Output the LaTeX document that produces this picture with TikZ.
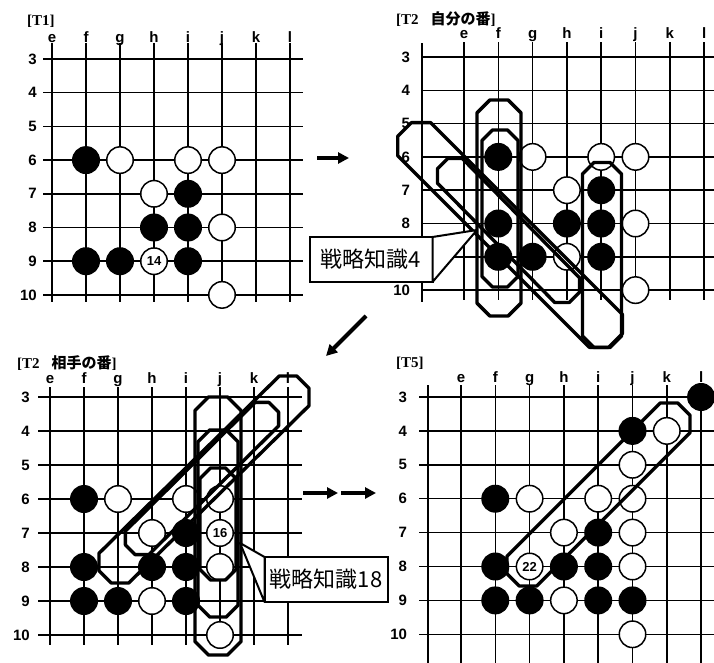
\documentclass[tikz,border=0pt]{standalone}
\usepackage{fontspec}
\setmainfont{Liberation Serif}
\newfontfamily\lblfont{Liberation Sans}
\newfontfamily\cjk{Noto Sans CJK JP}
\usetikzlibrary{arrows.meta,calc}

\tikzset{
  gridline/.style={line width=1.5pt},
  bstone/.style={circle,fill=black,minimum size=28pt,inner sep=0pt},
  wstone/.style={circle,draw,line width=1.5pt,fill=white,minimum size=26.5pt,inner sep=0pt,
    font=\lblfont\bfseries\fontsize{13}{13}\selectfont},
  collabel/.style={anchor=base,inner sep=0pt,font=\lblfont\bfseries\fontsize{15}{15}\selectfont},
  rowlabel/.style={anchor=east,inner sep=0pt,font=\lblfont\bfseries\fontsize{15}{15}\selectfont},
  title/.style={anchor=west,inner sep=0pt,font=\bfseries\fontsize{15}{15}\selectfont},
  capline/.style={line width=3.4pt,line join=round},
  callbox/.style={draw,fill=white,line width=2pt,outer sep=0pt,minimum width=123pt,
    minimum height=45pt,font=\cjk\fontsize{22}{22}\selectfont},
  wedge/.style={draw,fill=white,line width=2pt,line join=round},
  turn/.style={line width=4pt,-{Triangle[length=11pt,width=11pt]}},
}

% octagon ended band: ends #1 and #2, angle from #1 to #2, half width #4
\newcommand{\capsule}[4]{%
  \pgfmathsetmacro{\capr}{#4*1.0824}
  \draw[capline] ($(#2)+(#3-67.5:\capr pt)$) -- ($(#2)+(#3-22.5:\capr pt)$)
    -- ($(#2)+(#3+22.5:\capr pt)$) -- ($(#2)+(#3+67.5:\capr pt)$)
    -- ($(#1)+(#3+112.5:\capr pt)$) -- ($(#1)+(#3+157.5:\capr pt)$)
    -- ($(#1)+(#3+202.5:\capr pt)$) -- ($(#1)+(#3+247.5:\capr pt)$) -- cycle;}

\begin{document}
\begin{tikzpicture}[x=1pt,y=-1pt]
\useasboundingbox (0,0) rectangle (714,663);

% board T1 (column 0 = e)
\node[title] (t1) at (27,21) {[T1]};
\begin{scope}[shift={(52,-42.1)},x=34pt,y=-33.7pt]
  \foreach \c in {0,...,7} \draw[gridline] (\c,2.52) -- (\c,10.21);
  \foreach \r in {3,...,10} \draw[gridline] (-0.26,\r) -- (7.38,\r);
  \foreach \c/\l in {0/e,1/f,2/g,3/h,4/i,5/j,6/k,7/l} \node[collabel] (t1c\c) at (\c,2.5) {\l};
  \foreach \r in {3,...,10} \node[rowlabel] (t1r\r) at (-0.44,\r) {\r};
  \foreach \c/\r in {1/6,4/7,3/8,4/8,1/9,2/9,4/9} \node[bstone] (t1b\c\r) at (\c,\r) {};
  \foreach \c/\r in {2/6,4/6,5/6,3/7,5/8,5/10} \node[wstone] (t1w\c\r) at (\c,\r) {};
  \node[wstone] (t1m14) at (3,9) {14};
\end{scope}

% board T2, own turn (row 9 label lies under the callout)
\node[title] (t2) at (396,19) {[T2\hspace{12pt}{\cjk 自分の番}]};
\begin{scope}[shift={(464,-42.9)},x=34.3pt,y=-33.3pt]
  \draw[gridline] (-1.22,2.58) -- (-1.22,10.36);
  \foreach \c in {0,...,7} \draw[gridline] (\c,2.55) -- (\c,10.3);
  \foreach \r in {3,...,10} \draw[gridline] (-1.25,\r) -- (7.6,\r);
  \foreach \c/\l in {0/e,1/f,2/g,3/h,4/i,5/j,6/k,7/l} \node[collabel] (t2c\c) at (\c,2.43) {\l};
  \foreach \r in {3,...,8,10} \node[rowlabel] (t2r\r) at (-1.57,\r) {\r};
  \foreach \c/\r in {1/6,4/7,1/8,3/8,4/8,1/9,2/9,4/9} \node[bstone] (t2b\c\r) at (\c,\r) {};
  \foreach \c/\r in {2/6,4/6,5/6,3/7,5/8,3/9,5/10} \node[wstone] (t2w\c\r) at (\c,\r) {};
\end{scope}
\capsule{499,122}{499,294}{-90}{22}
\capsule{500,148}{500,269}{-90}{18}
\capsule{421,146}{599,324}{-45}{23.3}
\capsule{455,176}{562,285}{-45}{17.5}
\capsule{602,182}{602,328}{-90}{19.5}

% board T2, opponent's turn
\node[title] (t3) at (17,363) {[T2\hspace{12pt}{\cjk 相手の番}]};
\begin{scope}[shift={(50,295)},x=34pt,y=-34pt]
  \foreach \c in {0,...,7} \draw[gridline] (\c,2.71) -- (\c,10.29);
  \foreach \r in {3,...,10} \draw[gridline] (-0.35,\r) -- (7.41,\r);
  \foreach \c/\l in {0/e,1/f,2/g,3/h,4/i,5/j,6/k,7/l} \node[collabel] (t3c\c) at (\c,2.59) {\l};
  \foreach \r in {3,...,10} \node[rowlabel] (t3r\r) at (-0.59,\r) {\r};
  \foreach \c/\r in {1/6,4/7,1/8,3/8,4/8,1/9,2/9,4/9} \node[bstone] (t3b\c\r) at (\c,\r) {};
  \foreach \c/\r in {2/6,4/6,5/6,3/7,5/8,3/9,5/10} \node[wstone] (t3w\c\r) at (\c,\r) {};
  \node[wstone] (t3m16) at (5,7) {16};
\end{scope}
\capsule{218,420}{218,632}{-90}{23}
\capsule{218,450}{218,597}{-90}{20}
\capsule{218,486}{218,562}{-90}{18}
\capsule{120,562}{288,397}{45}{21}
\capsule{142,538}{262,419}{45}{16.6}

% board T5
\node[title] (t5) at (396,363) {[T5]};
\begin{scope}[shift={(461,295.3)},x=34.3pt,y=-33.9pt]
  \draw[gridline] (-0.96,2.65) -- (-0.96,11.2);
  \foreach \c in {0,...,7} \draw[gridline] (\c,2.65) -- (\c,11.2);
  \foreach \r in {3,...,10} \draw[gridline] (-1.22,\r) -- (7.6,\r);
  \foreach \c/\l in {0/e,1/f,2/g,3/h,4/i,5/j,6/k,7/l} \node[collabel] (t5c\c) at (\c,2.56) {\l};
  \foreach \r in {3,...,10} \node[rowlabel] (t5r\r) at (-1.57,\r) {\r};
  \foreach \c/\r in {7/3,5/4,1/6,4/7,1/8,3/8,4/8,1/9,2/9,4/9,5/9} \node[bstone] (t5b\c\r) at (\c,\r) {};
  \foreach \c/\r in {6/4,5/5,2/6,4/6,5/6,3/7,5/7,5/8,3/9,5/10} \node[wstone] (t5w\c\r) at (\c,\r) {};
  \node[wstone] (t5m22) at (2,8) {22};
\end{scope}
\capsule{528,565}{669,424}{45}{21}

% callouts
\node[callbox] (k4) at (371,259.5) {戦略知識4};
\coordinate (k4tip) at (477,230);
\draw[wedge] (k4.north east) -- (k4tip) -- (k4.south east) -- cycle;
\node[callbox] (k18) at (326,579.5) {戦略知識18};
\coordinate (k18tip) at (240,543);
\draw[wedge] (k18.north west) -- (k18tip) -- (k18.south west) -- cycle;

% arrows between the boards
\coordinate (a1s) at (317,158);
\coordinate (a1e) at (349,158);
\coordinate (a2s) at (366,316);
\coordinate (a2e) at (326,356);
\coordinate (a3s) at (303,493);
\coordinate (a3e) at (338,493);
\coordinate (a4s) at (341,493);
\coordinate (a4e) at (376,493);
\draw[turn] (a1s) -- (a1e);
\draw[turn] (a2s) -- (a2e);
\draw[turn] (a3s) -- (a3e);
\draw[turn] (a4s) -- (a4e);
\end{tikzpicture}
\end{document}
